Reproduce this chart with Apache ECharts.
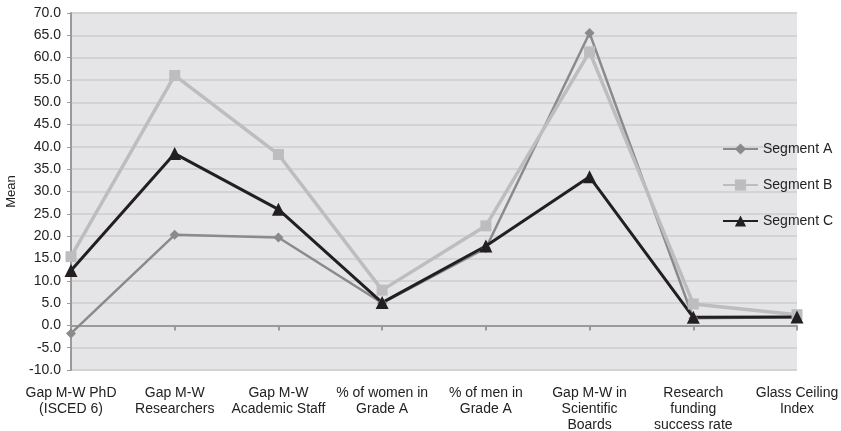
<!DOCTYPE html>
<html>
<head>
<meta charset="utf-8">
<script src="https://cdn.jsdelivr.net/npm/echarts@6/dist/echarts.min.js"></script>
<style>html,body{margin:0;padding:0;background:#fff}#c{width:841px;height:431px}</style>
</head>
<body>
<div id="c"></div>
<script>
var categories = ["Gap M-W PhD\n(ISCED 6)", "Gap M-W\nResearchers", "Gap M-W\nAcademic Staff", "% of women in\nGrade A", "% of men in\nGrade A", "Gap M-W in\nScientific\nBoards", "Research\nfunding\nsuccess rate", "Glass Ceiling\nIndex"];
var segmentA = [-1.8, 20.3, 19.7, 5.0, 17.3, 65.5, 1.6, 1.8];
var segmentB = [15.4, 56.0, 38.3, 7.9, 22.3, 61.3, 4.8, 2.4];
var segmentC = [12.3, 38.5, 26.0, 5.1, 17.8, 33.3, 1.8, 1.9];
var yMin = -10, yMax = 70, yStep = 5;

var font = "'Liberation Sans', Arial, sans-serif";
var chart = echarts.init(document.getElementById('c'));
chart.setOption({
  animation: false,
  textStyle: {fontFamily: font},
  grid: {left: 71, right: 44, top: 13, bottom: 61, show: true, backgroundColor: '#e5e5e7', borderWidth: 0, containLabel: false, outerBoundsMode: 'none'},
  legend: {
    orient: 'vertical', left: 717, top: 137, itemGap: 22, itemWidth: 35, itemHeight: 14,
    textStyle: {fontFamily: font, fontSize: 14, color: '#222'},
    data: ['Segment A', 'Segment B', 'Segment C']
  },
  xAxis: [{
    type: 'category', data: categories, boundaryGap: false, position: 'bottom',
    axisLine: {show: false, onZero: false}, axisTick: {show: false},
    axisLabel: {fontFamily: font, fontSize: 14, color: '#222', margin: 15, lineHeight: 16, interval: 0}
  }, {
    type: 'category', data: categories, boundaryGap: false, position: 'bottom',
    axisLine: {show: true, onZero: true, lineStyle: {color: '#9a9a9a', width: 2}},
    axisTick: {show: true, interval: 0, length: 5, lineStyle: {color: '#9a9a9a', width: 2}},
    axisLabel: {show: false}
  }],
  yAxis: {
    type: 'value', min: yMin, max: yMax, interval: yStep,
    name: 'Mean', nameLocation: 'middle', nameGap: 52,
    nameTextStyle: {fontFamily: font, fontSize: 13, color: '#222'},
    axisLine: {show: true, lineStyle: {color: '#9a9a9a', width: 2}},
    axisTick: {show: true, length: 4, lineStyle: {color: '#9a9a9a'}},
    axisLabel: {fontFamily: font, fontSize: 14, color: '#222', margin: 10, formatter: function(v){return v.toFixed(1);}},
    splitLine: {show: true, lineStyle: {color: '#d3d3d5', width: 2}}
  },
  series: [{
    name: 'Segment A', type: 'line', data: segmentA, xAxisIndex: 0,
    symbol: 'diamond', symbolSize: 10,
    lineStyle: {color: '#8a8a8a', width: 2.5}, itemStyle: {color: '#8a8a8a'}
  }, {
    name: 'Segment B', type: 'line', data: segmentB, xAxisIndex: 0,
    symbol: 'rect', symbolSize: 11,
    lineStyle: {color: '#bdbdbf', width: 3.5}, itemStyle: {color: '#bdbdbf'}
  }, {
    name: 'Segment C', type: 'line', data: segmentC, xAxisIndex: 0,
    symbol: 'triangle', symbolSize: 13,
    lineStyle: {color: '#231f20', width: 3}, itemStyle: {color: '#231f20'}
  }]
});
</script>
</body>
</html>
